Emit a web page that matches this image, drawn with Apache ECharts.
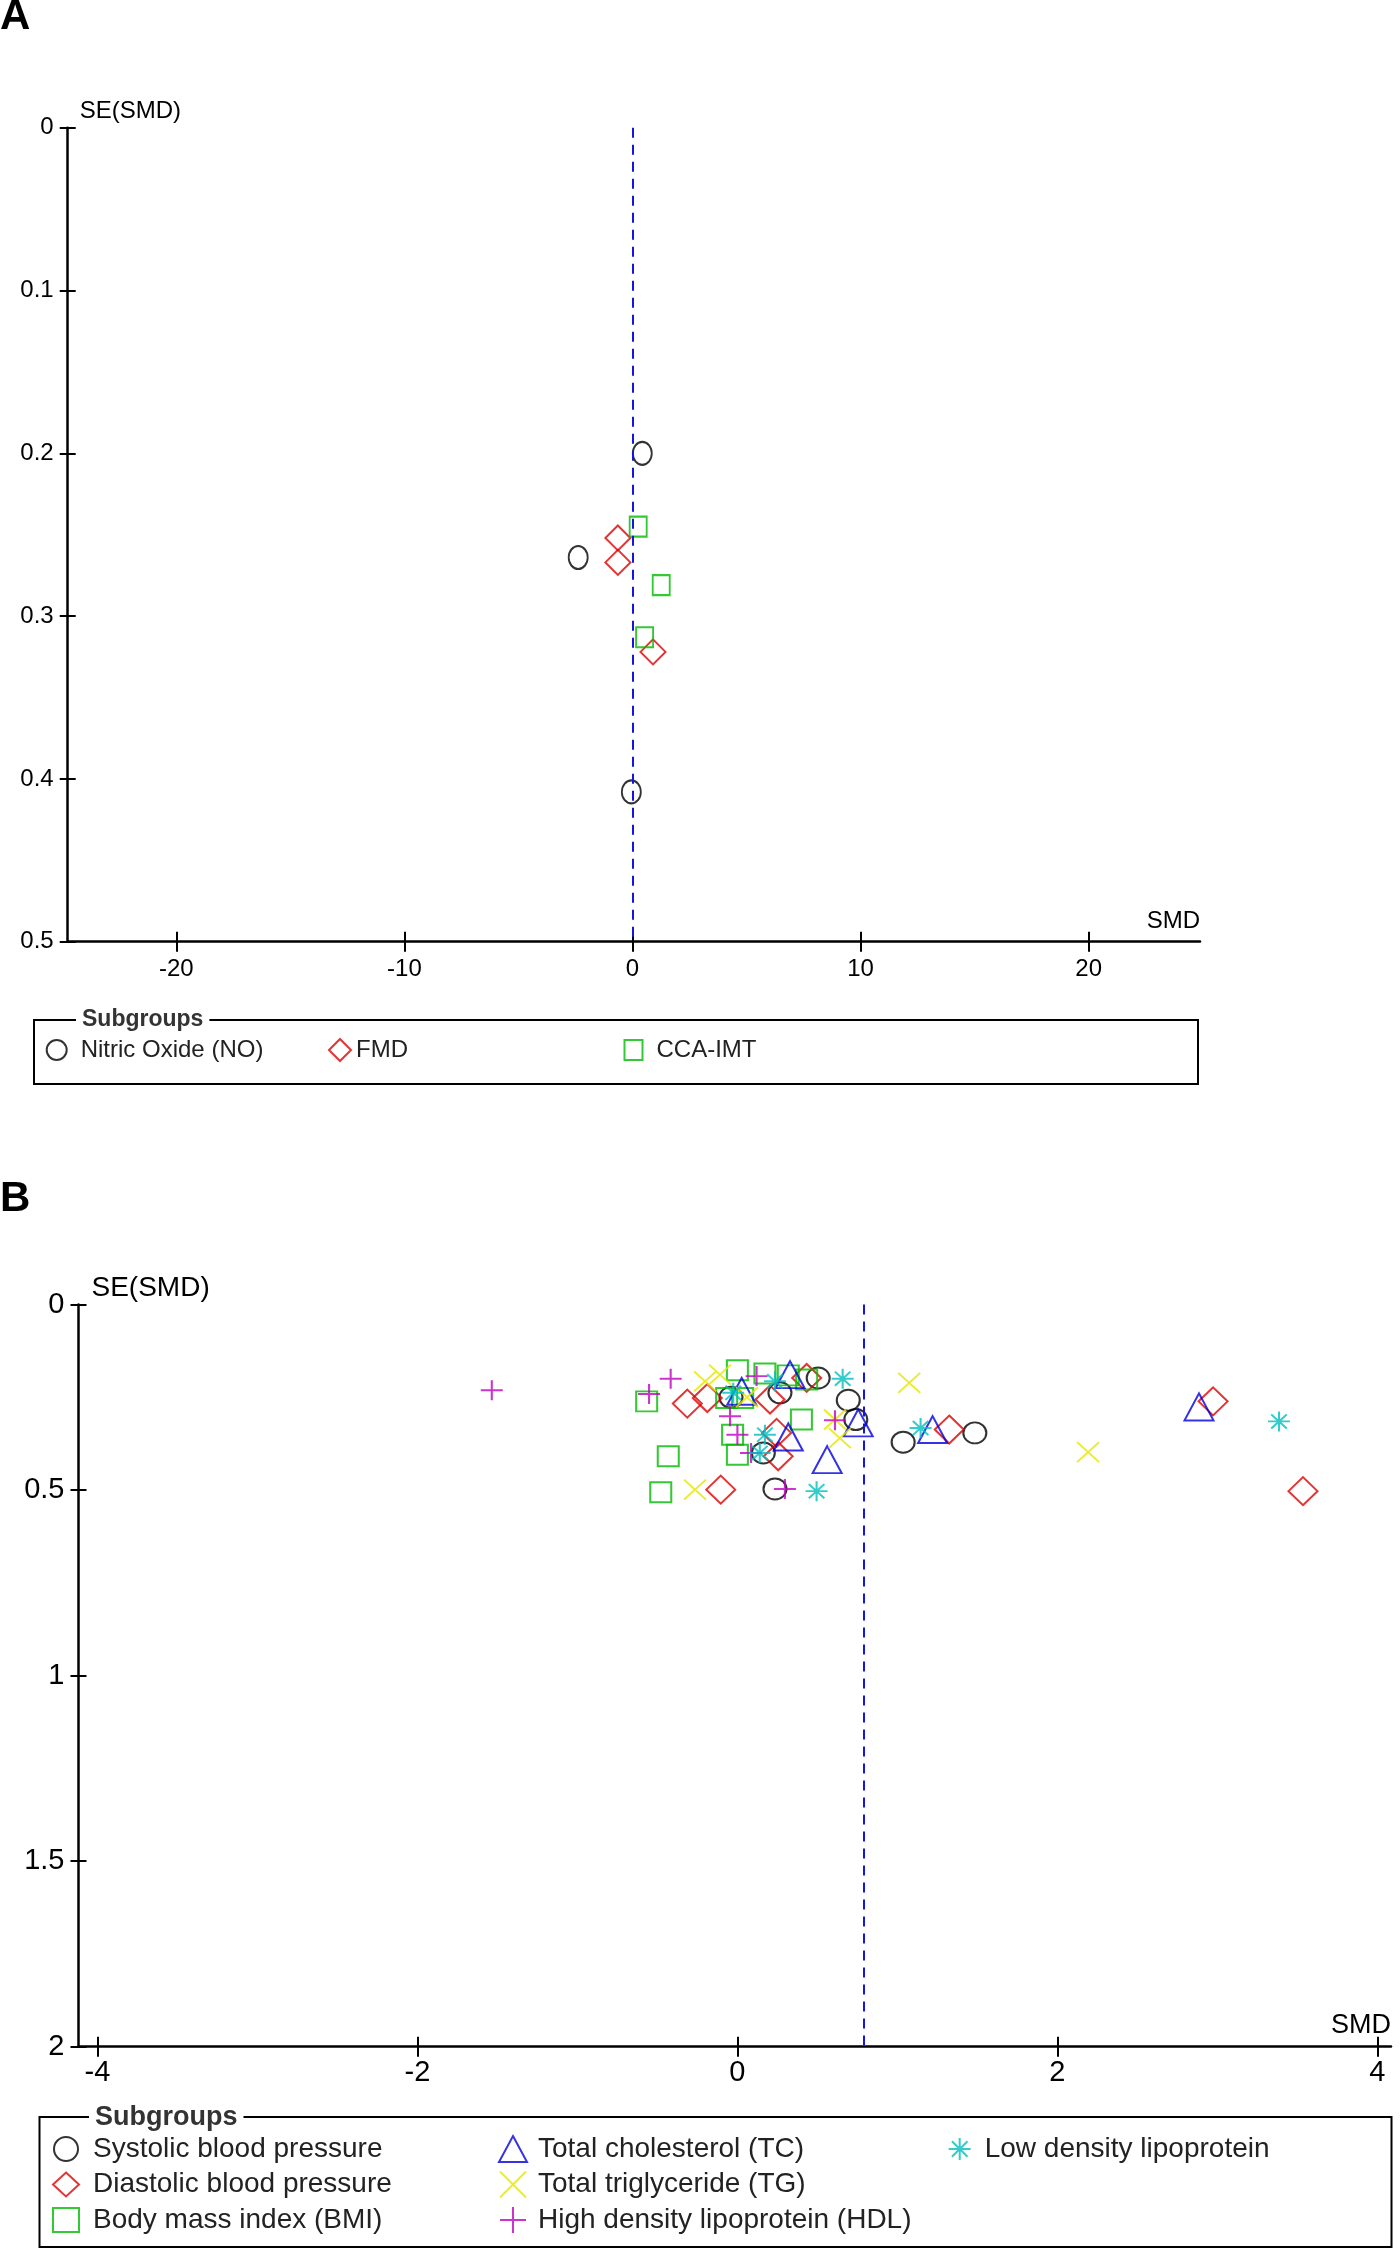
<!DOCTYPE html>
<html><head><meta charset="utf-8">
<script src="https://cdn.jsdelivr.net/npm/echarts@6/dist/echarts.min.js"></script>
<style>html,body{margin:0;padding:0;background:#fff}#c{width:1400px;height:2251px}</style>
</head><body><div id="c"></div>
<script>
// ---------- Panel A data: [SMD, SE(SMD)] ----------
const aNitricOxide = [[0.43,0.200],[-2.38,0.264],[-0.05,0.408]];
const aFMD = [[-0.64,0.252],[-0.64,0.267],[0.90,0.322]];
const aCCAIMT = [[0.25,0.245],[1.26,0.281],[0.53,0.313]];
const aPooledSMD = 0;
const aXTicks = [-20,-10,0,10,20];

// ---------- Panel B data: [SMD, SE(SMD)] ----------
const bSystolic = [[-0.04,0.250],[0.266,0.238],[0.505,0.198],[0.693,0.258],[0.74,0.310],[0.162,0.400],[0.235,0.497],[1.036,0.371],[1.484,0.346]];
const bDiastolic = [[-0.313,0.267],[-0.188,0.252],[0.204,0.256],[0.433,0.198],[0.245,0.346],[0.255,0.409],[-0.104,0.499],[1.324,0.337],[2.973,0.261],[3.535,0.503]];
const bBMI = [[-0.567,0.261],[0.0,0.177],[0.172,0.186],[0.318,0.191],[0.433,0.202],[-0.067,0.252],[0.033,0.252],[-0.03,0.351],[0.0,0.405],[-0.432,0.409],[-0.479,0.506],[0.40,0.310]];
const bTC = [[0.027,0.234],[0.329,0.189],[0.318,0.357],[0.561,0.418],[0.755,0.319],[1.22,0.337],[2.885,0.276]];
const bTG = [[-0.202,0.207],[-0.109,0.189],[0.06,0.250],[0.61,0.310],[0.64,0.360],[-0.265,0.499],[1.074,0.211],[2.192,0.398]];
const bHDL = [[-1.535,0.231],[-0.552,0.241],[-0.417,0.200],[-0.046,0.301],[0.0,0.351],[0.085,0.400],[0.12,0.193],[0.61,0.312],[0.297,0.497]];
const bLDL = [[-0.026,0.238],[0.235,0.207],[0.658,0.200],[0.172,0.351],[0.14,0.400],[0.495,0.503],[1.145,0.333],[3.385,0.315]];
const bPooledSMD = 0.79;
const bXTicks = [-4,-2,0,2,4];

const FONT = '"Liberation Sans", Arial, sans-serif';
const SYM = {
  ellipse: 'path://M10,0A10,10,0,1,1,10,20A10,10,0,1,1,10,0Z',
  cross: 'path://M0,0L20,20M20,0L0,20',
  plus: 'path://M10,0L10,20M0,10L20,10',
  star: 'path://M10,0L10,20M0,10L20,10M2.93,2.93L17.07,17.07M17.07,2.93L2.93,17.07'
};

function xMain(g, min, max, ticks, fs, margin, nameFs, namePad) {
  return {type:'value', gridIndex:g, position:'bottom', min:min, max:max,
    axisLine:{show:true, onZero:false, lineStyle:{color:'#000', width:2.5}},
    axisTick:{show:true, inside:false, length:10, customValues:ticks, lineStyle:{color:'#000', width:2}},
    axisLabel:{show:true, customValues:ticks, margin:margin, color:'#000', fontSize:fs, fontFamily:FONT},
    splitLine:{show:false},
    name:'SMD', nameLocation:'end', nameGap:0,
    nameTextStyle:{color:'#000', fontSize:nameFs, fontFamily:FONT, align:'right', verticalAlign:'bottom', padding:namePad}};
}
function xInner(g, min, max, ticks) {
  return {type:'value', gridIndex:g, position:'bottom', min:min, max:max,
    axisLine:{show:false, onZero:false},
    axisTick:{show:true, inside:true, length:10, customValues:ticks, lineStyle:{color:'#000', width:2}},
    axisLabel:{show:false}, splitLine:{show:false}};
}
function yMain(g, max, interval, fs, margin, nameFs, namePad) {
  return {type:'value', gridIndex:g, position:'left', inverse:true, min:0, max:max, interval:interval,
    axisLine:{show:true, onZero:false, lineStyle:{color:'#000', width:2.5}},
    axisTick:{show:true, inside:false, length:8, lineStyle:{color:'#000', width:2}},
    axisLabel:{show:true, margin:margin, color:'#000', fontSize:fs, fontFamily:FONT},
    splitLine:{show:false},
    name:'SE(SMD)', nameLocation:'start', nameGap:0,
    nameTextStyle:{color:'#000', fontSize:nameFs, fontFamily:FONT, align:'left', verticalAlign:'bottom', padding:namePad}};
}
function yInner(g, max, interval) {
  return {type:'value', gridIndex:g, position:'left', inverse:true, min:0, max:max, interval:interval,
    axisLine:{show:false, onZero:false},
    axisTick:{show:true, inside:true, length:8, lineStyle:{color:'#000', width:2}},
    axisLabel:{show:false}, splitLine:{show:false}};
}
function sc(name, xi, yi, data, symbol, size, color) {
  return {type:'scatter', name:name, xAxisIndex:xi, yAxisIndex:yi, data:data, symbol:symbol, symbolSize:size,
    silent:true, itemStyle:{color:'transparent', borderColor:color, borderWidth:2}};
}
function refLine(xi, yi, value) {
  return {type:'scatter', name:'pooled', xAxisIndex:xi, yAxisIndex:yi, data:[], silent:true,
    markLine:{silent:true, symbol:['none','none'], label:{show:false},
      lineStyle:{color:'#1515e0', width:2, type:[10,7]}, data:[{xAxis:value}]}};
}
function leg(names, left, top, w, h, fs, lh, gap, padLeft) {
  return {data:names, left:left, top:top, orient:'vertical', padding:0, itemGap:gap,
    itemWidth:w, itemHeight:h, selectedMode:false,
    itemStyle:{borderWidth:2},
    textStyle:{fontSize:fs, lineHeight:lh, color:'#222', fontFamily:FONT, padding:[0,0,0,padLeft]}};
}

const chart = echarts.init(document.getElementById('c'), null, {renderer:'canvas'});
chart.setOption({
  animation:false,
  backgroundColor:'#fff',
  title:[
    {text:'A', left:0, top:-4, padding:0, textStyle:{fontSize:42, fontWeight:'bold', fontFamily:FONT, color:'#000'}},
    {text:'B', left:0, top:1178, padding:0, textStyle:{fontSize:42, fontWeight:'bold', fontFamily:FONT, color:'#000'}},
    {text:'Subgroups', left:76, top:1006, padding:[0,6], backgroundColor:'#fff',
      textStyle:{fontSize:23, lineHeight:28, fontWeight:'bold', fontFamily:FONT, color:'#333'}},
    {text:'Subgroups', left:89, top:2103, padding:[0,6], backgroundColor:'#fff',
      textStyle:{fontSize:27, lineHeight:30, fontWeight:'bold', fontFamily:FONT, color:'#333'}}
  ],
  graphic:[
    {type:'rect', silent:true, z:0, shape:{x:34, y:1020, width:1164, height:64}, style:{fill:'none', stroke:'#000', lineWidth:2}},
    {type:'rect', silent:true, z:0, shape:{x:39.5, y:2117, width:1352, height:130}, style:{fill:'none', stroke:'#000', lineWidth:2}}
  ],
  grid:[
    {left:67.7, top:127.7, width:1132.3, height:814, containLabel:false},
    {left:78.5, top:1304.5, width:1312.5, height:742.2, containLabel:false}
  ],
  xAxis:[
    xMain(0, -24.76, 24.88, aXTicks, 24, 16, 24, [0,0,8,0]),
    xInner(0, -24.76, 24.88, aXTicks),
    xMain(1, -4.118, 4.085, bXTicks, 29, 12, 27, [0,0,8,0]),
    xInner(1, -4.118, 4.085, bXTicks)
  ],
  yAxis:[
    yMain(0, 0.5, 0.1, 24, 14, 24, [0,0,4,12]),
    yInner(0, 0.5, 0.1),
    yMain(1, 2, 0.5, 29, 14, 28, [0,0,2,13]),
    yInner(1, 2, 0.5)
  ],
  legend:[
    leg(['Nitric Oxide (NO)'], 45.7, 1037, 20, 22, 24, 26, 0, 9),
    leg(['FMD'], 328, 1037, 22, 22, 24, 26, 0, 0),
    leg(['CCA-IMT'], 623.5, 1037, 18, 20, 24, 26, 0, 9),
    leg(['Systolic blood pressure','Diastolic blood pressure','Body mass index (BMI)'], 52, 2134, 26, 24, 28, 30, 5.5, 9),
    leg(['Total cholesterol (TC)','Total triglyceride (TG)','High density lipoprotein (HDL)'], 498, 2134, 28, 26, 28, 30, 5.5, 6),
    leg(['Low density lipoprotein'], 947.7, 2134, 22, 22, 28, 30, 5.5, 9)
  ],
  series:[
    refLine(0, 0, aPooledSMD),
    sc('Nitric Oxide (NO)', 0, 0, aNitricOxide, SYM.ellipse, [19,23], '#000000'),
    sc('FMD', 0, 0, aFMD, 'diamond', [25,25], '#dd0000'),
    sc('CCA-IMT', 0, 0, aCCAIMT, 'rect', [17,20], '#00bb00'),
    refLine(2, 2, bPooledSMD),
    sc('Systolic blood pressure', 2, 2, bSystolic, SYM.ellipse, [23,21], '#000000'),
    sc('Diastolic blood pressure', 2, 2, bDiastolic, 'diamond', [29,28], '#dd0000'),
    sc('Body mass index (BMI)', 2, 2, bBMI, 'rect', [21,20], '#00bb00'),
    sc('Total cholesterol (TC)', 2, 2, bTC, 'triangle', [29,27], '#0000dd'),
    sc('Total triglyceride (TG)', 2, 2, bTG, SYM.cross, [22,20], '#e6e600'),
    sc('High density lipoprotein (HDL)', 2, 2, bHDL, SYM.plus, [22,20], '#c000c0'),
    sc('Low density lipoprotein', 2, 2, bLDL, SYM.star, [22,20], '#00bfbf')
  ]
});
</script>
</body></html>
